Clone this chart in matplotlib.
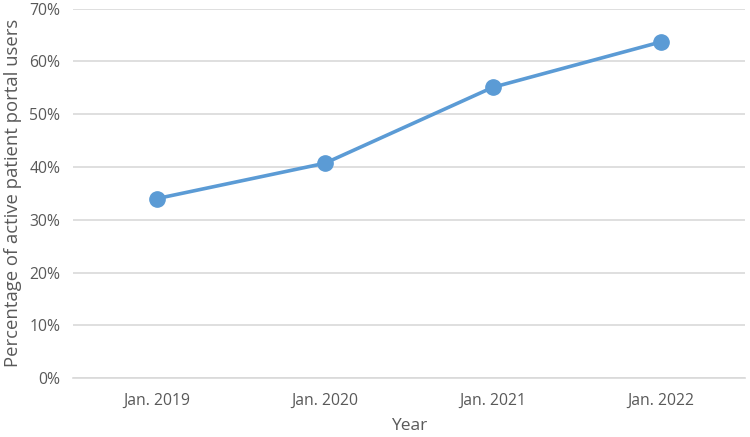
import matplotlib
matplotlib.use("Agg")
import matplotlib.pyplot as plt
from matplotlib.ticker import PercentFormatter

categories = ["Jan. 2019", "Jan. 2020", "Jan. 2021", "Jan. 2022"]
values = [34.0, 40.7, 55.1, 63.7]
yticks = [0, 10, 20, 30, 40, 50, 60, 70]

plt.rcParams['font.family'] = ['Open Sans', 'DejaVu Sans']
text_color = '#595959'

fig = plt.figure(figsize=(7.5, 4.37), dpi=100)
ax = fig.add_axes([0.097, 0.135, 0.896, 0.845])

x = list(range(len(categories)))
ax.plot(x, values, color='#5B9BD5', linewidth=2.6, marker='o', markersize=11, zorder=3)

ax.set_xlim(-0.5, len(categories) - 0.5)
ax.set_ylim(0, 70)
ax.set_yticks(yticks)
ax.yaxis.set_major_formatter(PercentFormatter(decimals=0))
ax.set_xticks(x)
ax.set_xticklabels(categories)

ax.grid(axis='y', color='#D9D9D9', linewidth=1.2)
ax.set_axisbelow(True)
for s in ['top', 'right', 'left']:
    ax.spines[s].set_visible(False)
ax.spines['bottom'].set_color('#D9D9D9')
ax.spines['bottom'].set_linewidth(1.2)
ax.tick_params(axis='both', length=0, colors=text_color, labelsize=11.3)
ax.tick_params(axis='x', pad=11)
ax.tick_params(axis='y', pad=9)

ax.set_xlabel("Year", color=text_color, fontsize=12.5, labelpad=6)
ax.set_ylabel("Percentage of active patient portal users", color=text_color, fontsize=13.3, labelpad=5)

fig.savefig("out.png", dpi=100)
